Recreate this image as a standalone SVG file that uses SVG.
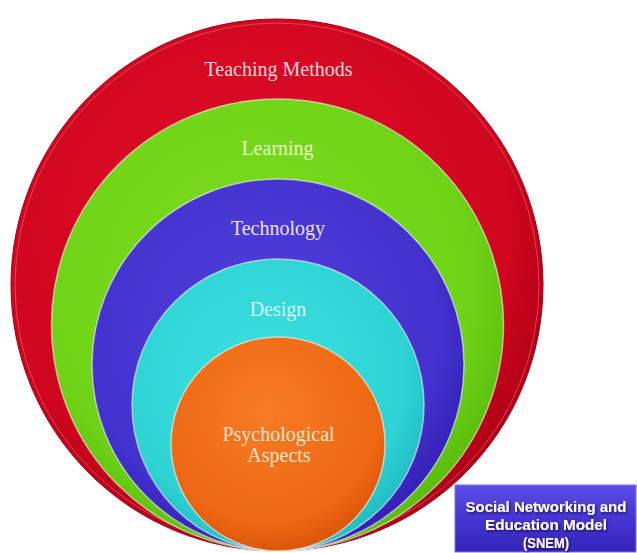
<svg xmlns="http://www.w3.org/2000/svg" width="637" height="553" viewBox="0 0 637 553">
  <defs>
    <radialGradient id="gRed" cx="0.45" cy="0.4" r="0.6">
      <stop offset="0" stop-color="#E0102A"/>
      <stop offset="0.8" stop-color="#D0061E"/>
      <stop offset="1" stop-color="#B00016"/>
    </radialGradient>
    <radialGradient id="gGreen" cx="0.45" cy="0.4" r="0.6">
      <stop offset="0" stop-color="#7FDD20"/>
      <stop offset="0.8" stop-color="#6ED316"/>
      <stop offset="1" stop-color="#5CBE0E"/>
    </radialGradient>
    <radialGradient id="gBlue" cx="0.45" cy="0.4" r="0.6">
      <stop offset="0" stop-color="#5040DA"/>
      <stop offset="0.8" stop-color="#4332CE"/>
      <stop offset="1" stop-color="#3422B8"/>
    </radialGradient>
    <radialGradient id="gCyan" cx="0.45" cy="0.4" r="0.6">
      <stop offset="0" stop-color="#3CDFDF"/>
      <stop offset="0.8" stop-color="#2ED4D4"/>
      <stop offset="1" stop-color="#22BEC4"/>
    </radialGradient>
    <radialGradient id="gOrange" cx="0.45" cy="0.35" r="0.65">
      <stop offset="0" stop-color="#F67C24"/>
      <stop offset="0.8" stop-color="#EE6814"/>
      <stop offset="1" stop-color="#DC560A"/>
    </radialGradient>
    <linearGradient id="gBox" x1="0" y1="0" x2="0" y2="1">
      <stop offset="0" stop-color="#5A4FE4"/>
      <stop offset="0.5" stop-color="#4535D2"/>
      <stop offset="1" stop-color="#3524B8"/>
    </linearGradient>
    <filter id="txtShadow" x="-10%" y="-30%" width="120%" height="160%">
      <feDropShadow dx="1" dy="1.5" stdDeviation="1" flood-color="#1a1050" flood-opacity="0.9"/>
    </filter>
  </defs>
  <style>
    .ring { stroke: #ffffff; stroke-opacity: 0.55; stroke-width: 1.5; }
    .lbl { font-family: "Liberation Serif", "Times New Roman", serif; font-size: 20px; text-anchor: middle; }
    .box-lbl { font-family: "Liberation Sans", Arial, sans-serif; font-weight: bold; font-size: 15px; fill: #ffffff; text-anchor: middle; }
  </style>

  <rect width="637" height="553" fill="#ffffff"/>

  <!-- nested layers, outermost first, all resting on a common bottom point -->
  <g id="teaching-methods">
    <circle cx="277" cy="285" r="266" fill="url(#gRed)" stroke="#9E0014" stroke-width="1"/>
    <circle cx="277" cy="285" r="262" fill="none" stroke="#F26A7C" stroke-opacity="0.6" stroke-width="1"/>
    <text class="lbl" x="278.5" y="76" fill="#F6D2D6">Teaching Methods</text>
  </g>
  <g id="learning">
    <circle class="ring" cx="277.5" cy="325" r="226" fill="url(#gGreen)"/>
    <text class="lbl" x="277.5" y="155" fill="#E4F6CC">Learning</text>
  </g>
  <g id="technology">
    <circle class="ring" cx="278" cy="365" r="186" fill="url(#gBlue)"/>
    <text class="lbl" x="278" y="235" fill="#E8E2FF">Technology</text>
  </g>
  <g id="design">
    <circle class="ring" cx="278" cy="405" r="146" fill="url(#gCyan)"/>
    <text class="lbl" x="278" y="316" fill="#D4F6F2">Design</text>
  </g>
  <g id="psychological-aspects">
    <circle class="ring" cx="278" cy="444" r="107" fill="url(#gOrange)" stroke="#FFE0B0"/>
    <text class="lbl" x="278.5" y="441" fill="#FBE2CC">Psychological</text>
    <text class="lbl" x="279" y="462" fill="#FBE2CC">Aspects</text>
  </g>

  <!-- title box -->
  <g id="snem-box">
    <rect x="455" y="485" width="181" height="67" fill="url(#gBox)" stroke="#7A70EE" stroke-width="1"/>
    <g filter="url(#txtShadow)">
      <text class="box-lbl" x="546" y="512">Social Networking and</text>
      <text class="box-lbl" x="546" y="530" textLength="122" lengthAdjust="spacingAndGlyphs">Education Model</text>
      <text class="box-lbl" x="546" y="548" textLength="46" lengthAdjust="spacingAndGlyphs">(SNEM)</text>
    </g>
  </g>

  <g id="connectors"/>
</svg>
